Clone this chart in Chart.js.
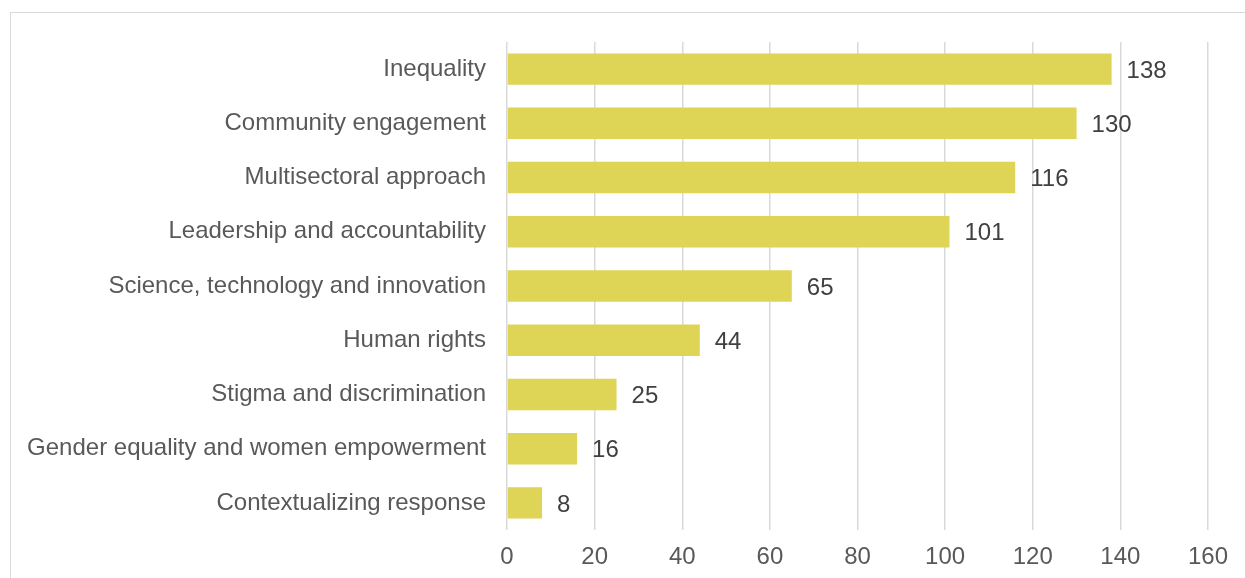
<!DOCTYPE html>
<html>
<head>
<meta charset="utf-8">
<script src="https://cdn.jsdelivr.net/npm/chart.js@4.4.0/dist/chart.umd.min.js"></script>
<style>
  html, body { margin: 0; padding: 0; background: #fff; overflow: hidden; }
  .frame {
    position: absolute; left: 10px; top: 12px;
    width: 1300px; height: 700px;
    border: 1px solid #d9d9d9;
  }
  .wrap { position: absolute; left: 0; top: 0; width: 1245px; height: 578px; }
</style>
</head>
<body>
<div class="frame"></div>
<div class="wrap"><canvas id="chart" width="1245" height="578"></canvas></div>
<script>
const categories = [
  'Inequality',
  'Community engagement',
  'Multisectoral approach',
  'Leadership and accountability',
  'Science, technology and innovation',
  'Human rights',
  'Stigma and discrimination',
  'Gender equality and women empowerment',
  'Contextualizing response'
];
const counts = [138, 130, 116, 101, 65, 44, 25, 16, 8];
const xTicks = [0, 20, 40, 60, 80, 100, 120, 140, 160];

const fontFamily = '"Liberation Sans", Arial, sans-serif';

// value labels to the right of each bar
const barValues = {
  id: 'barValues',
  afterDatasetsDraw(chart) {
    const ctx = chart.ctx;
    const meta = chart.getDatasetMeta(0);
    ctx.save();
    ctx.font = '24px ' + fontFamily;
    ctx.fillStyle = '#404040';
    ctx.textAlign = 'left';
    ctx.textBaseline = 'middle';
    meta.data.forEach((bar, i) => {
      ctx.fillText(String(counts[i]), bar.x + 15, bar.y + 2);
    });
    ctx.restore();
  }
};

new Chart(document.getElementById('chart'), {
  type: 'bar',
  data: {
    labels: categories,
    datasets: [{
      data: counts,
      backgroundColor: '#ded455',
      borderWidth: 0,
      categoryPercentage: 1,
      barPercentage: 0.58
    }]
  },
  options: {
    indexAxis: 'y',
    responsive: false,
    animation: false,
    layout: { padding: { top: 42, right: 37, bottom: 0, left: 0 } },
    plugins: {
      legend: { display: false },
      tooltip: { enabled: false }
    },
    scales: {
      x: {
        min: 0,
        max: 160,
        afterBuildTicks(scale) {
          scale.ticks = xTicks.map(v => ({ value: v }));
        },
        afterFit(scale) { scale.height = 48; },
        grid: { color: '#d9d9d9', lineWidth: 1.5, drawTicks: false },
        border: { display: false },
        ticks: {
          padding: 13,
          color: '#595959',
          font: { family: fontFamily, size: 24 }
        }
      },
      y: {
        afterFit(scale) { scale.width = 507; },
        grid: { display: false, drawTicks: false },
        border: { display: false },
        ticks: {
          padding: 21,
          color: '#595959',
          font: { family: fontFamily, size: 24 }
        }
      }
    }
  },
  plugins: [barValues]
});
</script>
</body>
</html>
